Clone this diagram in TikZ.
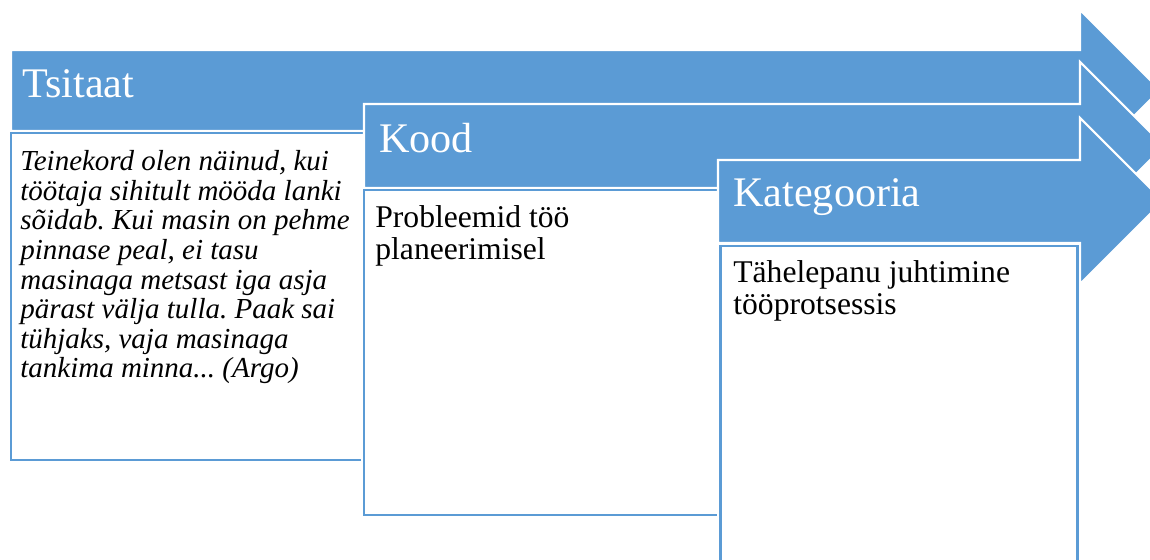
\documentclass[tikz,border=0pt]{standalone}
\usepackage{fontspec}
\setmainfont{Liberation Serif}
\frenchspacing
\definecolor{chartblue}{RGB}{91,155,213}
\tikzset{
  arrowshape/.style={fill=chartblue, draw=white, line width=1.2pt, line join=miter},
  textbox/.style={fill=white, draw=chartblue, line width=1.7pt,
    preaction={draw=white, line width=3.8pt}},
  headtext/.style={white, anchor=base west, inner sep=0pt,
    font=\fontsize{24}{28}\selectfont},
  bodytext/.style={black, anchor=base west, inner sep=0pt, align=left,
    font=\fontsize{18}{18.5}\selectfont},
}

\begin{document}
\begin{tikzpicture}[x=0.02cm, y=-0.02cm]
      \useasboundingbox (0,0) rectangle (1150,560) ;
      \clip (0,0) rectangle (1150,560) ;
      % Tsitaat (base of the text node = last line)
      \draw[arrowshape] (11,50) -- (1080,50) -- (1080,10) -- (1160,90) -- %
      (1080,170) -- (1080,131) -- (11,131) -- cycle ;
      \draw[textbox] (11,133) rectangle (364,460) ;
      \node[headtext] (tsitaat) at (22,98) {Tsitaat} ;
      \node[bodytext, font=\fontsize{16.5}{16.85}\selectfont\itshape] %
      (quote) at (20,378) {Teinekord olen näinud, kui\\
        töötaja sihitult mööda lanki\\
        sõidab. Kui masin on pehme\\
        pinnase peal, ei tasu\\
        masinaga metsast iga asja\\
        pärast välja tulla. Paak sai\\
        tühjaks, vaja masinaga\\
        tankima minna... (Argo)} ;
      % Kood
      \draw[arrowshape] (364,104) -- (1080,104) -- (1080,62) -- (1164,146) -- %
      (1080,230) -- (1080,188) -- (364,188) -- cycle ;
      \draw[textbox] (364,190) rectangle (718,515) ;
      \node[headtext] (kood) at (379,153) {Kood} ;
      \node[bodytext] (code) at (375,260) {Probleemid töö\\planeerimisel} ;
      % Kategooria
      \draw[arrowshape] (718,160) -- (1080,160) -- (1080,118) -- (1163,201) -- %
      (1080,284) -- (1080,243) -- (718,243) -- cycle ;
      \draw[textbox] (720,246) rectangle (1077,590) ;
      \node[headtext] (kategooria) at (733,207) {Kategooria} ;
      \node[bodytext] (category) at (733,315) {Tähelepanu juhtimine\\tööprotsessis} ;
    \end{tikzpicture}
\end{document}
